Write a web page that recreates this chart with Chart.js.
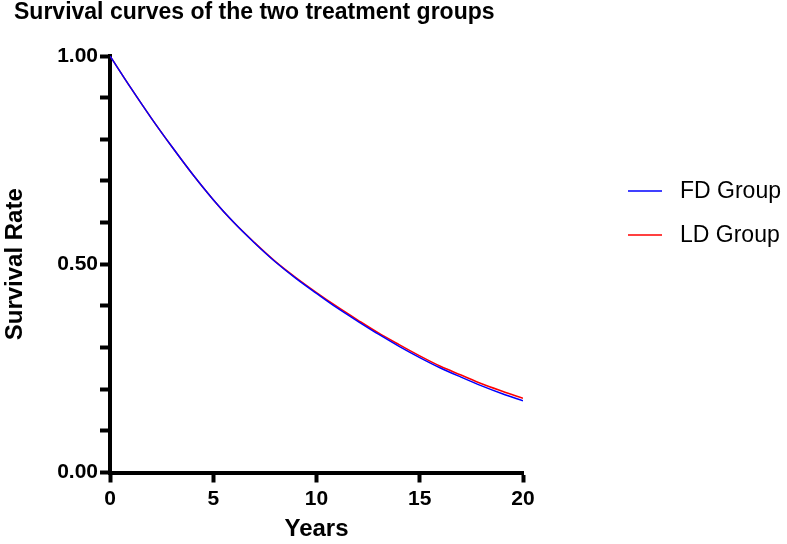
<!DOCTYPE html>
<html>
<head>
<meta charset="utf-8">
<script src="https://cdn.jsdelivr.net/npm/chart.js@4"></script>
<style>
  html, body { margin: 0; padding: 0; background: #fff; }
  #wrap { width: 787px; height: 544px; }
</style>
</head>
<body>
<div id="wrap"><canvas id="survivalChart"></canvas></div>
<script>
// values
const years = [0, 1, 2, 3, 4, 5, 6, 7, 8, 9, 10, 11, 12, 13, 14, 15, 16, 17, 18, 19, 20];
const fdGroup = [1.000, 0.924, 0.851, 0.782, 0.716, 0.655, 0.600, 0.551, 0.506, 0.466, 0.430,
                 0.395, 0.363, 0.332, 0.303, 0.276, 0.251, 0.229, 0.208, 0.189, 0.172];
const ldGroup = [1.000, 0.924, 0.851, 0.782, 0.716, 0.655, 0.600, 0.552, 0.507, 0.468, 0.432,
                 0.398, 0.366, 0.335, 0.307, 0.280, 0.255, 0.234, 0.213, 0.195, 0.178];
const seriesLabels = ['FD Group', 'LD Group'];
const seriesColors = ['#0000ff', '#ff0000'];
const yLabelled = [0, 0.5, 1];

const FONT = "'Liberation Sans', Arial, Helvetica, sans-serif";

// simple legend on the right, items taken from the datasets
const sideLegend = {
    id: 'sideLegend',
    afterDraw: function (chart) {
        const ctx = chart.ctx;
        ctx.save();
        ctx.font = '23px ' + FONT;
        ctx.textBaseline = 'middle';
        ctx.fillStyle = '#000';
        chart.data.datasets.forEach(function (ds, i) {
            const y = 191 + i * 44;
            ctx.strokeStyle = ds.borderColor;
            ctx.lineWidth = 1.5;
            ctx.beginPath();
            ctx.moveTo(628, y);
            ctx.lineTo(662, y);
            ctx.stroke();
            ctx.fillText(ds.label, 680, y + 1);
        });
        ctx.restore();
    }
};

const ctx = document.getElementById('survivalChart').getContext('2d');
const chart = new Chart(ctx, {
    type: 'line',
    data: {
        datasets: [fdGroup, ldGroup].map(function (vals, i) {
            return {
                label: seriesLabels[i],
                data: years.map((x, k) => ({ x: x, y: vals[k] })),
                borderColor: seriesColors[i],
                borderWidth: 1.5,
                pointRadius: 0,
                cubicInterpolationMode: 'monotone',
                fill: false
            };
        })
    },
    options: {
        responsive: true,
        maintainAspectRatio: false,
        animation: false,
        layout: { padding: { left: 14, right: 264, top: 0, bottom: 0 } },
        plugins: {
            legend: { display: false },
            tooltip: { enabled: false },
            title: {
                display: true,
                text: 'Survival curves of the two treatment groups',
                align: 'start',
                color: '#000',
                font: { family: FONT, size: 23, weight: 'bold', lineHeight: 1.0 },
                padding: { top: 1, bottom: 32 }
            }
        },
        scales: {
            x: {
                type: 'linear',
                min: 0,
                max: 20,
                afterFit: function (s) { s.height = 71.5; },
                ticks: {
                    stepSize: 5,
                    color: '#000',
                    padding: 4,
                    font: { family: FONT, size: 21, weight: 'bold' }
                },
                grid: {
                    drawOnChartArea: false,
                    drawTicks: true,
                    tickLength: 10,
                    tickWidth: 4,
                    tickColor: '#000'
                },
                border: { display: true, width: 4, color: '#000' },
                title: {
                    display: true,
                    text: 'Years',
                    color: '#000',
                    font: { family: FONT, size: 24, weight: 'bold' },
                    padding: { top: 0, bottom: 0 }
                }
            },
            y: {
                min: 0,
                max: 1,
                afterFit: function (s) { s.width = 96; },
                ticks: {
                    stepSize: 0.1,
                    autoSkip: false,
                    color: '#000',
                    padding: 2,
                    font: { family: FONT, size: 21, weight: 'bold' },
                    callback: function (v) {
                        const hit = yLabelled.some(t => Math.abs(t - v) < 1e-6);
                        return hit ? Number(v).toFixed(2) : '';
                    }
                },
                grid: {
                    drawOnChartArea: false,
                    drawTicks: true,
                    tickLength: 10,
                    tickWidth: 4,
                    tickColor: '#000'
                },
                border: { display: true, width: 4, color: '#000' },
                title: {
                    display: true,
                    text: 'Survival Rate',
                    color: '#000',
                    font: { family: FONT, size: 24, weight: 'bold' },
                    padding: { top: -13, bottom: 0 }
                }
            }
        }
    },
    plugins: [sideLegend]
});
</script>
</body>
</html>
